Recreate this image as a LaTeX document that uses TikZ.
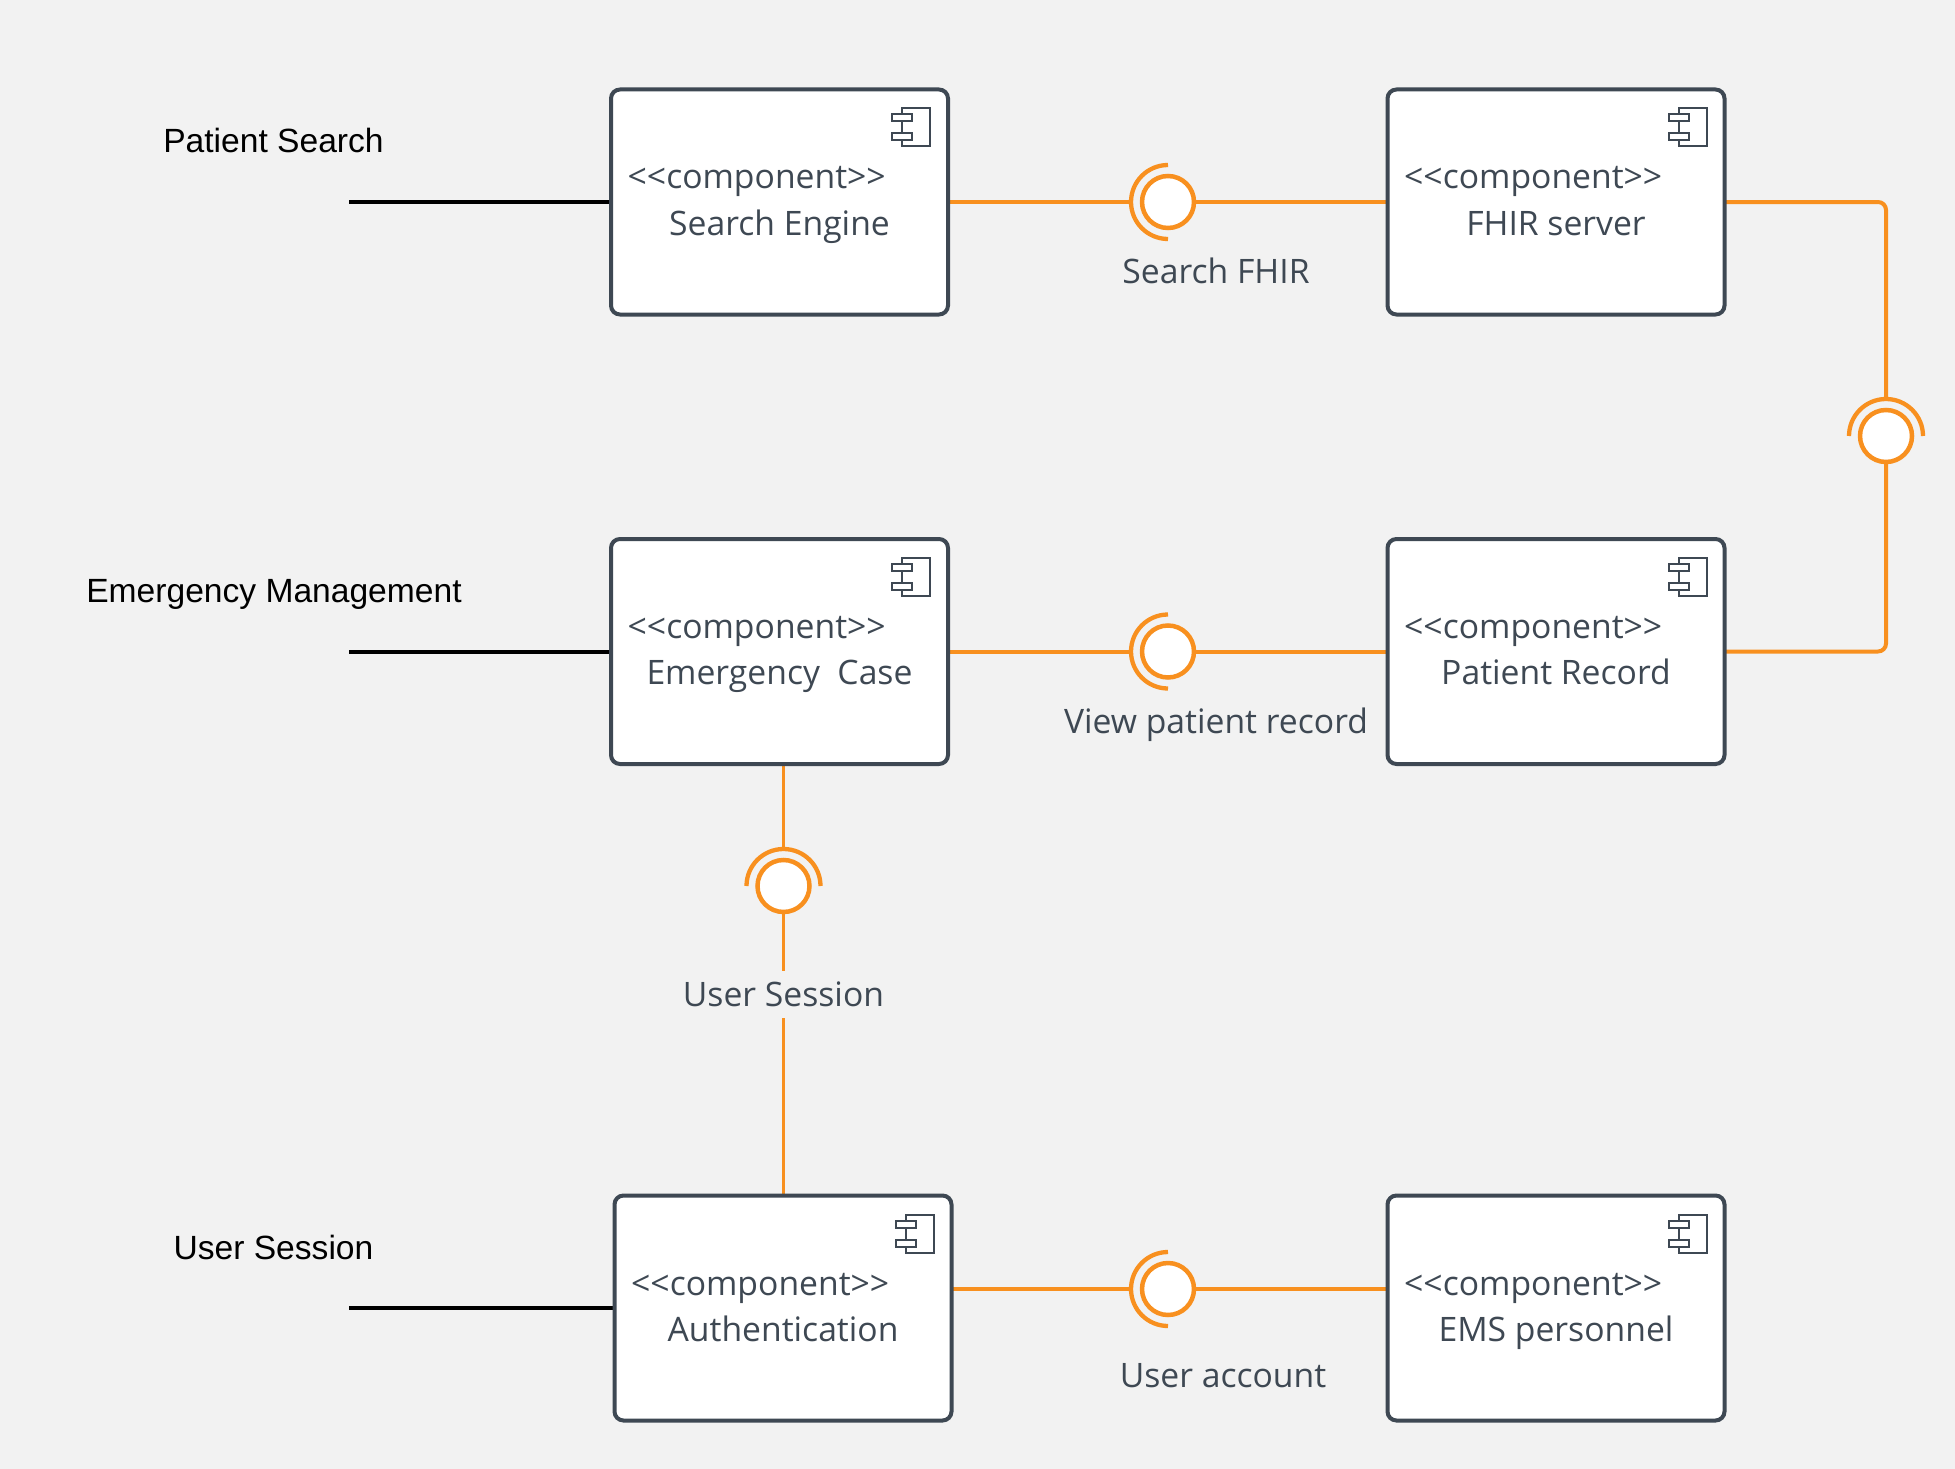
\documentclass[tikz,border=0pt]{standalone}
\usepackage{fontspec}
\setmainfont{Open Sans}
\newfontfamily\actorfont{Liberation Sans}
\usetikzlibrary{positioning,backgrounds}

\definecolor{pagegray}{HTML}{F2F2F2}
\definecolor{slateline}{HTML}{3E4853}
\definecolor{ifaceorange}{HTML}{F8901F}

\newcommand{\stereotext}{{<}{<}component{>}{>}}

\begin{document}
\begin{tikzpicture}[
        font=\fontsize{33.7}{46}\selectfont,
        component/.style={rectangle, minimum width=337pt, minimum height=225pt, draw=slateline, fill=white, line width=4pt, rounded corners=9pt, outer sep=0pt},
        stereotype/.style={anchor=base west, inner sep=0pt, text=slateline},
        compname/.style={anchor=base, inner sep=0pt, text=slateline},
        iface/.style={circle, minimum size=52pt, inner sep=0pt, outer sep=0pt, draw=ifaceorange, fill=white, line width=4.5pt},
        ifacelabel/.style={text=slateline, inner sep=0pt},
        actorlabel/.style={anchor=base, font=\actorfont\fontsize{33.6}{40}\selectfont, text=black, inner sep=0pt},
        wire/.style={draw=ifaceorange, line width=4pt},
        thinwire/.style={draw=ifaceorange, line width=3.2pt},
        stub/.style={draw=black, line width=4pt},
        socket/.pic={\draw[ifaceorange, line width=4.3pt] (0,37pt) arc[start angle=90, end angle=270, radius=37pt];},
        compicon/.pic={
            \draw[slateline, line width=2pt] (-46pt,-19pt) rectangle (-18pt,-57pt);
            \draw[slateline, line width=2pt, fill=white] (-56pt,-25pt) rectangle (-36pt,-32pt);
            \draw[slateline, line width=2pt, fill=white] (-56pt,-44pt) rectangle (-36pt,-51pt);
        }
    ]

        % --- Page ---
        \begin{scope}[on background layer]
            \fill[pagegray] (0,0) rectangle (1955pt,-1469pt);
        \end{scope}

        % --- Components ---
        \node (searchengine) [component] at (779.5pt,-202pt) {};
        \node (fhirserver) [component, right=439.5pt of searchengine] {};
        \node (emergencycase) [component, below=224.5pt of searchengine] {};
        \node (patientrecord) [component, right=439.5pt of emergencycase] {};
        \node (authentication) [component, below=431.5pt of emergencycase, xshift=3.5pt] {};
        \node (emspersonnel) [component, right=436pt of authentication] {};

        % --- Component icons ---
        \pic at (searchengine.north east) {compicon};
        \pic at (fhirserver.north east) {compicon};
        \pic at (emergencycase.north east) {compicon};
        \pic at (patientrecord.north east) {compicon};
        \pic at (authentication.north east) {compicon};
        \pic at (emspersonnel.north east) {compicon};

        % --- Component texts ---
        \node (searchenginetype) [stereotype] at ([xshift=16.5pt, yshift=-99.5pt]searchengine.north west) {\stereotext};
        \node (searchenginename) [compname] at ([yshift=-145.5pt]searchengine.north) {Search Engine};
        \node (fhirservertype) [stereotype] at ([xshift=16.5pt, yshift=-99.5pt]fhirserver.north west) {\stereotext};
        \node (fhirservername) [compname] at ([yshift=-145.5pt]fhirserver.north) {FHIR server};
        \node (emergencycasetype) [stereotype] at ([xshift=16.5pt, yshift=-99.5pt]emergencycase.north west) {\stereotext};
        \node (emergencycasename) [compname] at ([yshift=-145.5pt]emergencycase.north) {Emergency~~Case};
        \node (patientrecordtype) [stereotype] at ([xshift=16.5pt, yshift=-99.5pt]patientrecord.north west) {\stereotext};
        \node (patientrecordname) [compname] at ([yshift=-145.5pt]patientrecord.north) {Patient Record};
        \node (authenticationtype) [stereotype] at ([xshift=16.5pt, yshift=-99.5pt]authentication.north west) {\stereotext};
        \node (authenticationname) [compname] at ([yshift=-145.5pt]authentication.north) {Authentication};
        \node (emspersonneltype) [stereotype] at ([xshift=16.5pt, yshift=-99.5pt]emspersonnel.north west) {\stereotext};
        \node (emspersonnelname) [compname] at ([yshift=-145.5pt]emspersonnel.north) {EMS personnel};

        % --- Interfaces ---
        \node (ifacesearch) [iface, right=194pt of searchengine] {};
        \node (ifaceview) [iface, right=194pt of emergencycase] {};
        \node (ifaceaccount) [iface, right=190.5pt of authentication, yshift=19pt] {};
        \node (ifacerecord) [iface, right=135.5pt of fhirserver, yshift=-234pt] {};
        \node (ifacesession) [iface, below=96pt of emergencycase, xshift=4pt] {};

        \coordinate [left=11pt of ifacesearch] (socketsearch);
        \coordinate [left=11pt of ifaceview] (socketview);
        \coordinate [left=11pt of ifaceaccount] (socketaccount);
        \coordinate [above=11pt of ifacerecord] (socketrecord);
        \coordinate [above=11pt of ifacesession] (socketsession);

        \pic at (ifacesearch) {socket};
        \pic at (ifaceview) {socket};
        \pic at (ifaceaccount) {socket};
        \pic[rotate=-90] at (ifacerecord) {socket};
        \pic[rotate=-90] at (ifacesession) {socket};

        % --- Interface labels ---
        \node (labelsearch) [ifacelabel, below=30pt of ifacesearch, xshift=48pt] {Search FHIR};
        \node (labelview) [ifacelabel, below=30pt of ifaceview, xshift=48pt] {View patient record};
        \node (labelaccount) [ifacelabel, below=48pt of ifaceaccount, xshift=55pt] {User account};
        \node (labelsession) [ifacelabel, below=59pt of ifacesession, fill=pagegray, minimum height=47pt] {User Session};

        % --- Actor lines ---
        \coordinate [left=262pt of searchengine] (stubsearch);
        \coordinate [left=262pt of emergencycase] (stubemergency);
        \coordinate [left=265.5pt of authentication] (stubsession);

        \node (actorsearch) [actorlabel] at ([xshift=-75.5pt, yshift=49pt]stubsearch) {Patient Search};
        \node (actoremergency) [actorlabel] at ([xshift=-75pt, yshift=49pt]stubemergency) {Emergency Management};
        \node (actorsession) [actorlabel] at ([xshift=-75.5pt, yshift=49pt]stubsession) {User Session};

        % --- Connections ---
        \begin{scope}[on background layer]
            \draw [stub] (stubsearch) -- (searchengine.west);
            \draw [stub] (stubemergency) -- (emergencycase.west);
            \draw [stub] (stubsession) -- (authentication.west);

            \draw [wire] (searchengine.east) -- (socketsearch);
            \draw [wire] (ifacesearch) -- (fhirserver.west);
            \draw [wire] (emergencycase.east) -- (socketview);
            \draw [wire] (ifaceview) -- (patientrecord.west);
            \draw [thinwire] (socketaccount -| authentication.east) -- (socketaccount);
            \draw [thinwire] (ifaceaccount) -- (ifaceaccount -| emspersonnel.west);
            \draw [wire, rounded corners=8pt] (fhirserver.east) -| (socketrecord);
            \draw [wire, rounded corners=8pt] (patientrecord.east) -| (ifacerecord);
            \draw [thinwire] (ifacesession |- emergencycase.south) -- (socketsession);
            \draw [thinwire] (ifacesession) -- (ifacesession |- authentication.north);
        \end{scope}

    \end{tikzpicture}
\end{document}
